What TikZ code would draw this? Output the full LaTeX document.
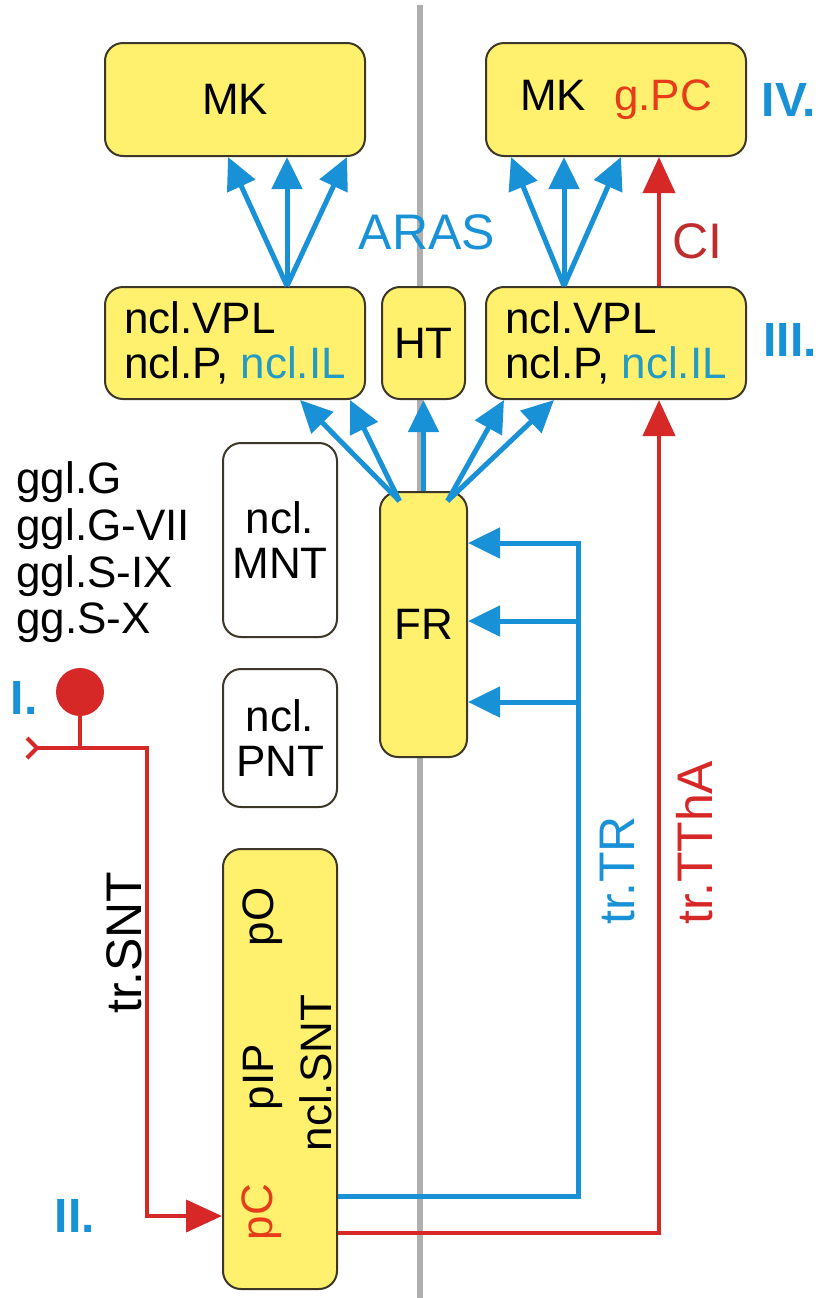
\documentclass[tikz,border=0pt]{standalone}
\usepackage{fontspec}
\setmainfont{Liberation Sans}
\usepackage{tikz}
\definecolor{nucyellow}{RGB}{255,240,110}
\definecolor{nucedge}{RGB}{60,55,40}
\definecolor{pathblue}{RGB}{25,145,215}
\definecolor{pathred}{RGB}{215,40,40}
\definecolor{cired}{RGB}{190,45,45}
\definecolor{ilteal}{RGB}{35,155,195}
\definecolor{pcred}{RGB}{230,60,25}
\definecolor{midgray}{RGB}{175,175,175}
\usetikzlibrary{arrows.meta, positioning, calc}

\begin{document}
\begin{tikzpicture}[
    x=0.5pt, y=-0.5pt,
    boxfont/.style={font=\fontsize{22pt}{22.5pt}\selectfont},
    nucleus/.style={rectangle, draw=nucedge, line width=1pt, fill=nucyellow, rounded corners=9pt, align=center, boxfont},
    plainbox/.style={rectangle, draw=nucedge, line width=1pt, fill=white, rounded corners=9pt, align=center, boxfont, minimum width=57pt},
    bluearrow/.style={-{Triangle[length=16pt,width=15pt]}, line width=2.5pt, pathblue},
    redarrow/.style={-{Triangle[length=18pt,width=16pt]}, line width=2pt, pathred},
    tract/.style={font=\fontsize{25pt}{26pt}\selectfont, inner sep=0pt},
    level/.style={font=\fontsize{24pt}{25pt}\selectfont\bfseries, text=pathblue, inner sep=0pt},
    inbox/.style={boxfont, inner sep=0pt, rotate=90}
]
    \useasboundingbox (0,0) rectangle (821,1298);
    % midline
    \draw[midgray, line width=3.2pt] (420,5) -- (420,1298);

    % cortex and thalamus
    \node[nucleus, minimum width=130pt, minimum height=56.5pt] (mkL) at (235,99.5) {MK};
    \node[nucleus, minimum width=130pt, minimum height=56pt, align=left, below=64.5pt of mkL] (vplL) {ncl.VPL\\ncl.P, \textcolor{ilteal}{ncl.IL}};
    \node[nucleus, minimum width=41.5pt, minimum height=56pt, right=7.5pt of vplL] (ht) {HT};
    \node[nucleus, minimum width=130pt, minimum height=56pt, align=left, right=9.5pt of ht] (vplR) {ncl.VPL\\ncl.P, \textcolor{ilteal}{ncl.IL}};
    \node[nucleus, minimum width=130pt, minimum height=56.5pt, above=64.5pt of vplR] (mkR) {MK\hspace{14pt}\textcolor{pcred}{g.PC}};
    \node[nucleus, minimum width=43.5pt, minimum height=132.5pt, below=45.5pt of ht] (fr) {FR};

    % brain stem nuclei
    \node[plainbox, minimum height=97pt] (mnt) at (280,540) {ncl.\\MNT};
    \node[plainbox, minimum height=69pt, below=15pt of mnt] (pnt) {ncl.\\PNT};
    \node[nucleus, minimum width=57pt, minimum height=220pt, below=20pt of pnt] (snt) {};
    \node[inbox, text=pcred] (pc) at ($(snt.center)+(-18,143)$) {pC};
    \node[inbox] (pip) at ($(snt.center)+(-17,8)$) {pIP};
    \node[inbox] (po) at ($(snt.center)+(-17,-152)$) {pO};
    \node[inbox] (nclsnt) at ($(snt.center)+(36,4)$) {ncl.SNT};

    % ganglia
    \foreach \name/\yy in {ggl.G/482, ggl.G-VII/529, ggl.S-IX/576, gg.S-X/623}
        \node[boxfont, anchor=west, inner sep=0pt] at (16,\yy) {\name};

    % labels
    \node[tract, text=pathblue] (aras) at (427,232) {ARAS};
    \node[tract, text=cired] (ci) at (697,241) {CI};
    \node[tract, rotate=90, anchor=west] (trsnt) at (124,1014) {tr.SNT};
    \node[tract, rotate=90, anchor=west, text=pathblue] (trtr) at (617,925) {tr.TR};
    \node[tract, rotate=90, anchor=west, text=pathred] (trttha) at (695,925) {tr.TThA};
    \node[level] (lvIV) at (789,100) {IV.};
    \node[level] (lvIII) at (790,340) {III.};
    \node[level] (lvI) at (24,698) {I.};
    \node[level] (lvII) at (75,1216) {II.};

    % receptor and afferent tract
    \node[circle, fill=pathred, minimum size=24pt, inner sep=0pt] (rec) at (80,692) {};
    \coordinate (tail) at (25,748);
    \coordinate (bend) at (147,748);
    \draw[pathred, line width=2pt] (rec) -- (rec |- tail);
    \draw[redarrow, {Straight Barb[reversed,length=5pt,width=10pt]}-{Triangle[length=18pt,width=16pt]}] (tail) -- (bend) |- ($(snt.west)+(0,147)$);

    % ascending activation
    \foreach \dx in {-7,52,112}
        \draw[bluearrow] ($(vplL.north)+(52,0)$) -- ($(mkL.south)+(\dx,0)$);
    \foreach \dx in {-105,-52,5}
        \draw[bluearrow] ($(vplR.north)+(-52,0)$) -- ($(mkR.south)+(\dx,0)$);
    \draw[redarrow] ($(vplR.north)+(43,0)$) -- ($(mkR.south)+(43,0)$);

    % reticular projections
    \foreach \dx in {65,115}
        \draw[bluearrow] ($(fr.north)+(-24,10)$) -- ($(vplL.south)+(\dx,0)$);
    \draw[bluearrow] (fr.north) -- (ht.south);
    \foreach \dx in {-112,-62}
        \draw[bluearrow] ($(fr.north)+(24,10)$) -- ($(vplR.south)+(\dx,0)$);

    % trigeminoreticular tract
    \coordinate (trA) at (578,543);
    \coordinate (trB) at (578,621);
    \coordinate (trC) at (578,702);
    \draw[bluearrow] ($(snt.east)+(0,127)$) -| (trA) -- (trA -| fr.east);
    \draw[bluearrow] (trB) -- (trB -| fr.east);
    \draw[bluearrow] (trC) -- (trC -| fr.east);

    % trigeminothalamic tract
    \draw[redarrow] ($(snt.east)+(0,164)$) -| ($(vplR.south)+(43,0)$);
\end{tikzpicture}
\end{document}
